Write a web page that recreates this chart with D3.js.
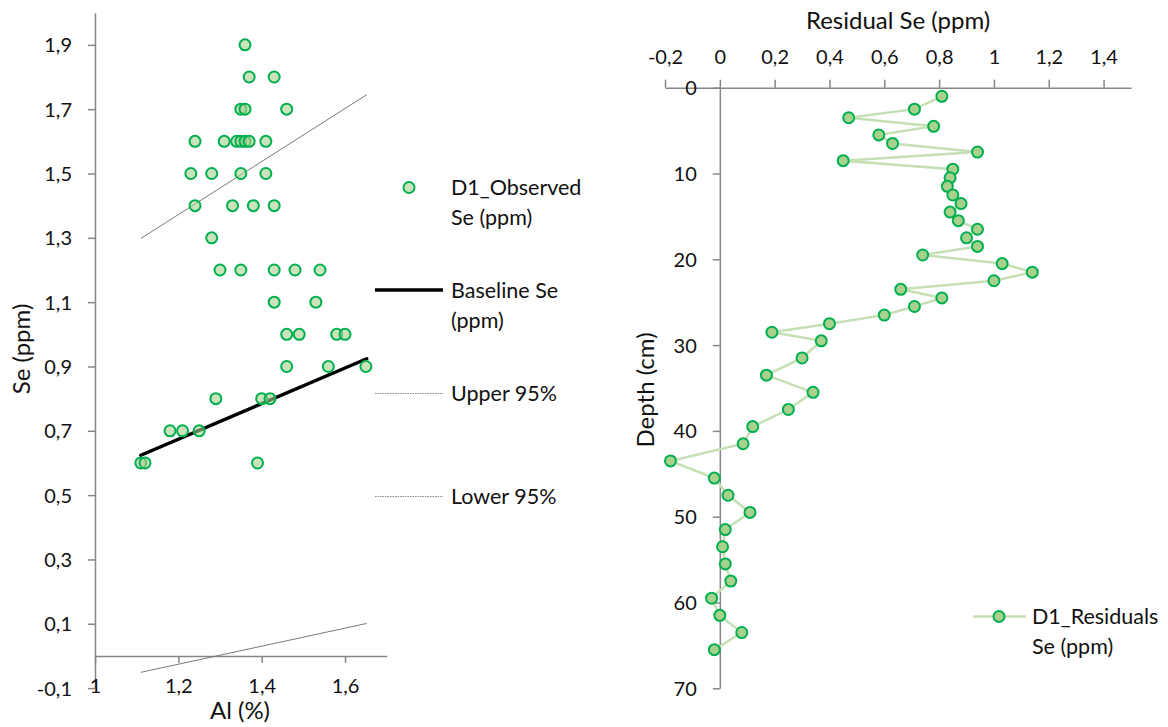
<!DOCTYPE html>
<html>
<head>
<meta charset="utf-8">
<script src="https://cdn.jsdelivr.net/npm/d3@7"></script>
<style>
  body { margin: 0; background: #fff; }
  text { font-family: Lato, "Open Sans", sans-serif; fill: #111; }
</style>
</head>
<body>
<div id="chart"></div>
<script>
// ---- left panel: Se vs Al ----
const alValues = [
    1.36,
    1.37, 1.43,
    1.35, 1.36, 1.46,
    1.24, 1.31, 1.34, 1.35, 1.36, 1.37, 1.41,
    1.23, 1.28, 1.35, 1.41,
    1.24, 1.33, 1.38, 1.43,
    1.28,
    1.30, 1.35, 1.43, 1.48, 1.54,
    1.43, 1.53,
    1.46, 1.49, 1.58, 1.60,
    1.46, 1.56, 1.65,
    1.29, 1.40, 1.42,
    1.18, 1.21, 1.25,
    1.11, 1.12, 1.39
];
const seValues = [
    1.9,
    1.8, 1.8,
    1.7, 1.7, 1.7,
    1.6, 1.6, 1.6, 1.6, 1.6, 1.6, 1.6,
    1.5, 1.5, 1.5, 1.5,
    1.4, 1.4, 1.4, 1.4,
    1.3,
    1.2, 1.2, 1.2, 1.2, 1.2,
    1.1, 1.1,
    1.0, 1.0, 1.0, 1.0,
    0.9, 0.9, 0.9,
    0.8, 0.8, 0.8,
    0.7, 0.7, 0.7,
    0.6, 0.6, 0.6
];
// regression lines, read at both ends
const lineAl = [1.11, 1.652];
const baselineSe = [0.624, 0.924];
const upper95 = [1.298, 1.745];
const lower95 = [-0.051, 0.101];

const seTicks = [-0.1, 0.1, 0.3, 0.5, 0.7, 0.9, 1.1, 1.3, 1.5, 1.7, 1.9];
const alTicks = [1, 1.2, 1.4, 1.6];

// ---- right panel: residuals vs depth ----
const depths = [1, 2.5, 3.5, 4.5, 5.5, 6.5, 7.5, 8.5, 9.5, 10.5, 11.5, 12.5, 13.5, 14.5,
    15.5, 16.5, 17.5, 18.5, 19.5, 20.5, 21.5, 22.5, 23.5, 24.5, 25.5, 26.5, 27.5, 28.5,
    29.5, 31.5, 33.5, 35.5, 37.5, 39.5, 41.5, 43.5, 45.5, 47.5, 49.5, 51.5, 53.5, 55.5,
    57.5, 59.5, 61.5, 63.5, 65.5];
const residuals = [0.81, 0.71, 0.47, 0.78, 0.58, 0.63, 0.94, 0.45, 0.85, 0.84, 0.83, 0.85, 0.88, 0.84,
    0.87, 0.94, 0.90, 0.94, 0.74, 1.03, 1.14, 1.00, 0.66, 0.81, 0.71, 0.60, 0.40, 0.19,
    0.37, 0.30, 0.17, 0.34, 0.25, 0.12, 0.085, -0.18, -0.02, 0.03, 0.11, 0.02, 0.01, 0.02,
    0.04, -0.03, 0.0, 0.08, -0.02];

const residualTicks = [-0.2, 0, 0.2, 0.4, 0.6, 0.8, 1, 1.2, 1.4];
const depthTicks = [0, 10, 20, 30, 40, 50, 60, 70];

const width = 1168;
const height = 727;
const axisColor = "#868686";
const markerStroke = "#00b050";
const markerFill = "#a9d18e";
const tickFont = 20;
const legendFont = 21.5;
const titleFont = 24;

const fmt = d => String(+d.toFixed(2)).replace(".", ",");

const svg = d3.select("#chart")
    .append("svg")
    .attr("width", width)
    .attr("height", height);

function styleAxis(g) {
    g.select(".domain").attr("stroke", axisColor).attr("stroke-width", 1.5);
    g.selectAll(".tick line").attr("stroke", axisColor).attr("stroke-width", 1.5);
    g.selectAll(".tick text")
        .attr("fill", "#111")
        .style("font-family", "Lato, 'Open Sans', sans-serif")
        .style("font-size", tickFont + "px");
}

// ================= left chart =================
const xL = d3.scaleLinear().domain([1, 1.7]).range([95, 386.7]);
const yL = d3.scaleLinear().domain([-0.1, 2.0]).range([688.1, 12.7]);

const yAxisL = svg.append("g")
    .attr("transform", `translate(${xL(1)},0)`)
    .call(d3.axisLeft(yL).tickValues(seTicks).tickSize(7).tickSizeOuter(0).tickFormat(fmt));
styleAxis(yAxisL);
yAxisL.selectAll(".tick text").attr("x", -23).attr("dy", "0.35em");

const xAxisL = svg.append("g")
    .attr("transform", `translate(0,${yL(0)})`)
    .call(d3.axisBottom(xL).tickValues(alTicks).tickSize(7).tickSizeOuter(0).tickFormat(fmt));
styleAxis(xAxisL);
xAxisL.selectAll(".tick text").attr("y", yL(-0.1) - yL(0) - 2).attr("dy", "0.35em");

// confidence lines and baseline
const bandLine = d3.line().x(d => xL(d[0])).y(d => yL(d[1]));
[upper95, lower95].forEach(arr => {
    svg.append("path")
        .datum(lineAl.map((a, i) => [a, arr[i]]))
        .attr("fill", "none")
        .attr("stroke", "#7a7a7a")
        .attr("stroke-width", 1)
        .attr("d", bandLine);
});
svg.append("path")
    .datum(lineAl.map((a, i) => [a, baselineSe[i]]))
    .attr("fill", "none")
    .attr("stroke", "#000")
    .attr("stroke-width", 3.5)
    .attr("stroke-linecap", "round")
    .attr("d", bandLine);

svg.selectAll("circle.obs")
    .data(alValues.map((a, i) => ({ al: a, se: seValues[i] })))
    .enter()
    .append("circle")
    .attr("class", "obs")
    .attr("cx", d => xL(d.al))
    .attr("cy", d => yL(d.se))
    .attr("r", 5.5)
    .attr("fill", markerFill)
    .attr("fill-opacity", 0.6)
    .attr("stroke", markerStroke)
    .attr("stroke-width", 2);

svg.append("text")
    .attr("transform", "translate(22,349) rotate(-90)")
    .attr("text-anchor", "middle")
    .attr("dy", "0.35em")
    .style("font-size", titleFont + "px")
    .text("Se (ppm)");

svg.append("text")
    .attr("x", 240)
    .attr("y", 711)
    .attr("text-anchor", "middle")
    .attr("dy", "0.35em")
    .style("font-size", titleFont + "px")
    .text("Al (%)");

// left legend
function legendText(x, y, lines) {
    const t = svg.append("text")
        .attr("x", x)
        .attr("y", y)
        .style("font-size", legendFont + "px");
    lines.forEach((l, i) => {
        t.append("tspan")
            .attr("x", x)
            .attr("dy", i === 0 ? "0.35em" : "30px")
            .text(l);
    });
}

const legX = 451;
svg.append("circle")
    .attr("cx", 409).attr("cy", 187.5).attr("r", 5.5)
    .attr("fill", markerFill).attr("fill-opacity", 0.6)
    .attr("stroke", markerStroke).attr("stroke-width", 2);
legendText(legX, 187, ["D1_Observed", "Se (ppm)"]);

svg.append("line")
    .attr("x1", 375).attr("x2", 443).attr("y1", 290).attr("y2", 290)
    .attr("stroke", "#000").attr("stroke-width", 3.5);
legendText(legX, 290, ["Baseline Se", "(ppm)"]);

svg.append("line")
    .attr("x1", 375).attr("x2", 443).attr("y1", 393.5).attr("y2", 393.5)
    .attr("stroke", "#808080").attr("stroke-width", 0.9).attr("stroke-dasharray", "1.5,1");
legendText(legX, 393, ["Upper 95%"]);

svg.append("line")
    .attr("x1", 375).attr("x2", 443).attr("y1", 496.5).attr("y2", 496.5)
    .attr("stroke", "#808080").attr("stroke-width", 0.9).attr("stroke-dasharray", "1.5,1");
legendText(legX, 496, ["Lower 95%"]);

// ================= right chart =================
const xR = d3.scaleLinear().domain([-0.2, 1.5]).range([665, 1131]);
const yR = d3.scaleLinear().domain([0, 70]).range([87.7, 688.3]);

const xAxisR = svg.append("g")
    .attr("transform", `translate(0,${yR(0)})`)
    .call(d3.axisTop(xR).tickValues(residualTicks).tickSize(8).tickSizeOuter(0).tickFormat(fmt));
styleAxis(xAxisR);
xAxisR.selectAll(".tick text").attr("y", -31).attr("dy", "0.35em");

const yAxisR = svg.append("g")
    .attr("transform", `translate(${xR(0)},0)`)
    .call(d3.axisLeft(yR).tickValues(depthTicks).tickSize(7).tickSizeOuter(0));
styleAxis(yAxisR);
yAxisR.selectAll(".tick text").attr("x", -23).attr("dy", "0.35em");

const residualLine = d3.line()
    .x(d => xR(d.v))
    .y(d => yR(d.depth));
const resData = depths.map((d, i) => ({ depth: d, v: residuals[i] }));

svg.append("path")
    .datum(resData)
    .attr("fill", "none")
    .attr("stroke", "#c5e0b4")
    .attr("stroke-width", 2.5)
    .attr("d", residualLine);

svg.selectAll("circle.res")
    .data(resData)
    .enter()
    .append("circle")
    .attr("class", "res")
    .attr("cx", d => xR(d.v))
    .attr("cy", d => yR(d.depth))
    .attr("r", 5.5)
    .attr("fill", markerFill)
    .attr("stroke", markerStroke)
    .attr("stroke-width", 2);

svg.append("text")
    .attr("x", 898)
    .attr("y", 21)
    .attr("text-anchor", "middle")
    .attr("dy", "0.35em")
    .style("font-size", titleFont + "px")
    .text("Residual Se (ppm)");

svg.append("text")
    .attr("transform", "translate(646,390) rotate(-90)")
    .attr("text-anchor", "middle")
    .attr("dy", "0.35em")
    .style("font-size", titleFont + "px")
    .text("Depth (cm)");

// right legend
svg.append("line")
    .attr("x1", 973).attr("x2", 1026).attr("y1", 616.5).attr("y2", 616.5)
    .attr("stroke", "#c5e0b4").attr("stroke-width", 2.5);
svg.append("circle")
    .attr("cx", 999).attr("cy", 616.5).attr("r", 5.5)
    .attr("fill", markerFill).attr("stroke", markerStroke).attr("stroke-width", 2);
legendText(1032, 616, ["D1_Residuals", "Se (ppm)"]);
</script>
</body>
</html>
